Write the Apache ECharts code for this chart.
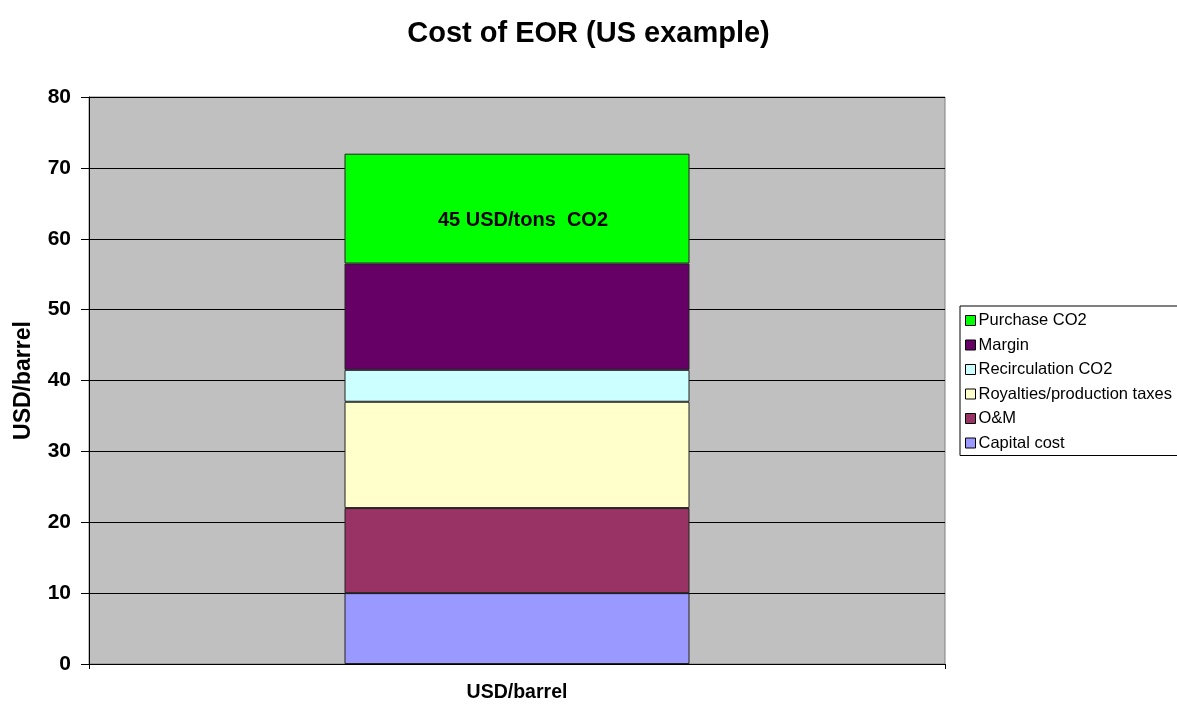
<!DOCTYPE html>
<html>
<head>
<meta charset="utf-8">
<script src="https://cdn.jsdelivr.net/npm/echarts@6/dist/echarts.min.js"></script>
<style>
  html, body { margin: 0; padding: 0; background: #fff; }
  #chart { width: 1177px; height: 705px; }
</style>
</head>
<body>
<div id="chart"></div>
<script>
// data
const categories = ["USD/barrel"];
const seriesNames = ["Capital cost", "O&M", "Royalties/production taxes", "Recirculation CO2", "Margin", "Purchase CO2"];
const capitalCost = [10];
const oAndM = [12];
const royalties = [15];
const recirculation = [4.5];
const margin = [15];
const purchase = [15.5];
const colors = ["#9999ff", "#993366", "#ffffcc", "#ccffff", "#660066", "#00ff00"];

const values = [capitalCost, oAndM, royalties, recirculation, margin, purchase];
const font = "Liberation Sans, Arial";

const chart = echarts.init(document.getElementById("chart"));

const series = seriesNames.map(function (name, i) {
  const s = {
    name: name,
    type: "bar",
    stack: "cost",
    data: values[i],
    barWidth: 345,
    itemStyle: { color: colors[i], borderColor: "#222", borderWidth: 1 },
  };
  if (name === "Purchase CO2") {
    s.label = {
      show: true,
      position: "inside",
      offset: [6, 12],
      formatter: "45 USD/tons  CO2",
      color: "#000",
      fontFamily: font,
      fontWeight: "bold",
      fontSize: 20,
    };
  }
  return s;
});

chart.setOption({
  animation: false,
  title: {
    text: "Cost of EOR (US example)",
    left: "center",
    top: 14,
    textStyle: { fontFamily: font, fontWeight: "bold", fontSize: 29, color: "#000" },
  },
  grid: {
    left: 89,
    right: 232,
    top: 97,
    bottom: 41,
    show: true,
    backgroundColor: "#c0c0c0",
    borderColor: "#808080",
    borderWidth: 1,
  },
  legend: {
    orient: "vertical",
    left: 960,
    top: 306,
    data: seriesNames.slice().reverse(),
    icon: "rect",
    itemWidth: 10,
    itemHeight: 10,
    itemGap: 7.5,
    padding: [6, 30, 4, 5],
    borderColor: "#000",
    borderWidth: 1,
    textStyle: { fontFamily: font, fontSize: 16.5, color: "#000", padding: [0, 0, 0, -2] },
    itemStyle: { borderColor: "#000", borderWidth: 1 },
  },
  xAxis: {
    type: "category",
    data: categories,
    axisLine: { lineStyle: { color: "#000", width: 1 } },
    axisTick: { show: true, length: 5, lineStyle: { color: "#000" } },
    axisLabel: {
      margin: 19,
      color: "#000",
      fontFamily: font,
      fontWeight: "bold",
      fontSize: 19.5,
    },
  },
  yAxis: {
    type: "value",
    min: 0,
    max: 80,
    interval: 10,
    name: "USD/barrel",
    nameLocation: "middle",
    nameGap: 54,
    nameTextStyle: { fontFamily: font, fontWeight: "bold", fontSize: 23, color: "#000" },
    axisLine: { show: true, lineStyle: { color: "#000", width: 1 } },
    axisTick: { show: true, length: 8, lineStyle: { color: "#000" } },
    axisLabel: {
      margin: 18,
      color: "#000",
      fontFamily: font,
      fontWeight: "bold",
      fontSize: 21,
    },
    splitLine: { show: true, lineStyle: { color: "#000", width: 1 } },
  },
  series: series,
});
</script>
</body>
</html>
